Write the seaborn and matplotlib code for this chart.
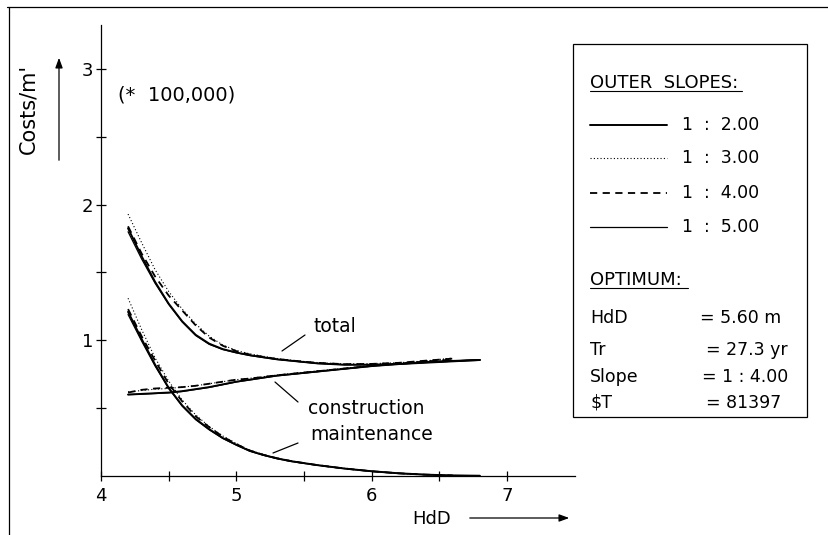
import numpy as np
import pandas as pd
import matplotlib
matplotlib.use("Agg")
import matplotlib.pyplot as plt
from matplotlib.lines import Line2D
from matplotlib.patches import Rectangle, FancyArrowPatch
from matplotlib.ticker import FuncFormatter
import seaborn as sns

# ---------------- data ----------------
hdd = [4.2, 4.3, 4.4, 4.5, 4.6, 4.7, 4.8, 4.9, 5.0, 5.1, 5.2, 5.3, 5.4, 5.5,
       5.6, 5.8, 6.0, 6.2, 6.4, 6.6, 6.8]

slopes = ["1  :  2.00", "1  :  3.00", "1  :  4.00", "1  :  5.00"]

# slope 1:2 (solid)
total_s2 = [1.825, 1.62, 1.43, 1.27, 1.14, 1.04, 0.975, 0.935, 0.91, 0.89, 0.875,
            0.86, 0.85, 0.84, 0.83, 0.82, 0.82, 0.825, 0.835, 0.845, 0.855]
constr_s2 = [0.60, 0.605, 0.61, 0.615, 0.625, 0.64, 0.655, 0.675, 0.695, 0.71, 0.725,
             0.74, 0.75, 0.76, 0.77, 0.79, 0.81, 0.825, 0.84, 0.848, 0.855]
maint_s2 = [1.21, 1.01, 0.82, 0.65, 0.52, 0.42, 0.345, 0.28, 0.23, 0.185, 0.155,
            0.13, 0.11, 0.095, 0.08, 0.055, 0.035, 0.02, 0.01, 0.004, 0.002]

# slope 1:3 (dotted)
total_s3 = [1.93, 1.72, 1.52, 1.36, 1.23, 1.12, 1.03, 0.965, 0.925, 0.9, 0.882,
            0.866, 0.854, 0.844, 0.836, 0.826, 0.828, 0.835, 0.848, 0.87]
constr_s3 = [0.62, 0.63, 0.64, 0.645, 0.655, 0.665, 0.68, 0.695, 0.71, 0.72, 0.732,
             0.744, 0.754, 0.764, 0.774, 0.794, 0.814, 0.83, 0.846, 0.862]
maint_s3 = [1.31, 1.08, 0.87, 0.70, 0.56, 0.45, 0.365, 0.295, 0.24, 0.19, 0.158,
            0.132, 0.112, 0.096, 0.081, 0.056, 0.036, 0.02, 0.01, 0.004]

# slope 1:4 (dashed)
total_s4 = [1.84, 1.64, 1.47, 1.33, 1.22, 1.11, 1.02, 0.96, 0.92, 0.895, 0.878,
            0.862, 0.852, 0.842, 0.834, 0.824, 0.826, 0.834, 0.85, 0.865]
constr_s4 = [0.615, 0.635, 0.645, 0.65, 0.655, 0.665, 0.68, 0.695, 0.71, 0.718, 0.73,
             0.742, 0.752, 0.762, 0.772, 0.792, 0.812, 0.828, 0.844, 0.858]
maint_s4 = [1.23, 1.03, 0.85, 0.68, 0.55, 0.44, 0.36, 0.29, 0.235, 0.188, 0.156,
            0.131, 0.111, 0.095, 0.08, 0.055, 0.035, 0.02, 0.01, 0.004]

# slope 1:5 (solid)
total_s5 = [1.80, 1.60, 1.42, 1.265, 1.135, 1.035, 0.97, 0.932, 0.908, 0.888, 0.873,
            0.859, 0.849, 0.839, 0.829, 0.82, 0.82, 0.826, 0.836, 0.846, 0.856]
constr_s5 = [0.60, 0.603, 0.608, 0.613, 0.623, 0.638, 0.653, 0.673, 0.693, 0.708, 0.723,
             0.738, 0.748, 0.758, 0.768, 0.789, 0.809, 0.825, 0.84, 0.848, 0.856]
maint_s5 = [1.19, 0.995, 0.81, 0.645, 0.515, 0.415, 0.34, 0.277, 0.228, 0.183, 0.153,
            0.128, 0.108, 0.093, 0.079, 0.054, 0.034, 0.019, 0.009, 0.004, 0.002]

x_ticks = [4, 4.5, 5, 5.5, 6, 6.5, 7]
y_ticks = [0.5, 1, 1.5, 2, 2.5, 3]

opt_keys = ["HdD", "Tr", "Slope", "$T"]
opt_vals = ["= 5.60 m", "= 27.3 yr", "= 1 : 4.00", "= 81397"]

series = {
    slopes[0]: (total_s2, constr_s2, maint_s2),
    slopes[1]: (total_s3, constr_s3, maint_s3),
    slopes[2]: (total_s4, constr_s4, maint_s4),
    slopes[3]: (total_s5, constr_s5, maint_s5),
}

rows = []
for sl, (tot, con, mai) in series.items():
    for name, vals in (("total", tot), ("construction", con), ("maintenance", mai)):
        for xv, yv in zip(hdd, vals):
            rows.append({"HdD": xv, "cost": yv, "component": name, "slope": sl})
df = pd.DataFrame(rows)

styles = {
    slopes[0]: dict(linestyle="-", lw=1.4),
    slopes[1]: dict(linestyle=(0, (1, 2)), lw=0.8),
    slopes[2]: dict(linestyle=(0, (4, 3)), lw=1.3),
    slopes[3]: dict(linestyle="-", lw=0.9),
}

# ---------------- figure ----------------
sns.set_style("white")
plt.rcParams["font.family"] = ["DejaVu Sans"]
plt.rcParams["text.color"] = "black"
plt.rcParams["axes.labelcolor"] = "black"
plt.rcParams["xtick.color"] = "black"
plt.rcParams["ytick.color"] = "black"

W, H = 829, 535
fig = plt.figure(figsize=(W / 100, H / 100), dpi=100)

def fx(px):
    return px / W

def fy(py):
    return 1 - py / H

x0, x1 = 101, 575
y0, y1 = 476, 25
ax = fig.add_axes([fx(x0), fy(y0), (x1 - x0) / W, (y0 - y1) / H])
ax.set_facecolor("none")

for sl in slopes:
    for comp in ("total", "construction", "maintenance"):
        d = df[(df.slope == sl) & (df.component == comp)]
        sns.lineplot(data=d, x="HdD", y="cost", ax=ax, color="black",
                     legend=False, estimator=None, sort=True, **styles[sl])

ax.set_xlim(4, 4 + (x1 - x0) / 135.3)
ax.set_ylim(0, (y0 - y1) / 135.7)
ax.set_xlabel("")
ax.set_ylabel("")
for s in ("top", "right"):
    ax.spines[s].set_visible(False)
for s in ("left", "bottom"):
    ax.spines[s].set_color("black")
    ax.spines[s].set_linewidth(0.9)

intfmt = FuncFormatter(lambda v, p: f"{int(round(v))}" if abs(v - round(v)) < 1e-6 else "")
ax.set_xticks(x_ticks)
ax.set_yticks(y_ticks)
ax.xaxis.set_major_formatter(intfmt)
ax.yaxis.set_major_formatter(intfmt)
ax.tick_params(axis="both", direction="inout", length=7.5, width=0.9,
               colors="black", labelsize=13, bottom=True, left=True)
ax.tick_params(axis="x", pad=4)
ax.tick_params(axis="y", pad=2)

# annotations with leader lines
def px2data(px, py):
    return 4 + (px - x0) / 135.3, (y0 - py) / 135.7

for label, (ax_, ay_), (bx, by), (tx, ty) in [
    ("total", (282, 351), (305, 335), (314, 327)),
    ("construction", (275, 382), (298, 402), (308, 408)),
    ("maintenance", (273, 453), (298, 443), (310, 435)),
]:
    p0 = px2data(ax_, ay_)
    p1 = px2data(bx, by)
    ax.plot([p0[0], p1[0]], [p0[1], p1[1]], color="black", lw=0.9)
    t = px2data(tx, ty)
    ax.text(t[0], t[1], label, fontsize=13.5, ha="left", va="center")

ax.text(*px2data(118, 95), "(*  100,000)", fontsize=14, ha="left", va="center")

# y label with arrow
fig.text(fx(28), fy(109), "Costs/m'", rotation=90, fontsize=15, ha="center", va="center")
fig.add_artist(FancyArrowPatch(
    (fx(59), fy(163)), (fx(59), fy(55)), transform=fig.transFigure,
    arrowstyle="-|>,head_length=6,head_width=2.2", color="black", lw=0.9))

# x label with arrow
fig.text(fx(412), fy(519), "HdD", fontsize=13, ha="left", va="center")
fig.add_artist(FancyArrowPatch(
    (fx(467), fy(518)), (fx(572), fy(518)), transform=fig.transFigure,
    arrowstyle="-|>,head_length=6,head_width=2.2", color="black", lw=0.9))

# figure frame (left and top)
fig.add_artist(Line2D([fx(9), fx(9)], [fy(7), fy(535)], color="black", lw=0.9))
fig.add_artist(Line2D([fx(7), fx(829)], [fy(7), fy(7)], color="black", lw=0.9))

# legend / info box
fig.add_artist(Rectangle((fx(573), fy(417)), (807 - 573) / W, (417 - 44) / H,
                         transform=fig.transFigure, fill=False, ec="black", lw=0.9))
fig.text(fx(590), fy(83), "OUTER  SLOPES:", fontsize=13, ha="left", va="center")
fig.add_artist(Line2D([fx(590), fx(742)], [fy(91), fy(91)], color="black", lw=0.8))
for i, sl in enumerate(slopes):
    yy = [125, 158, 193, 227][i]
    st = styles[sl]
    fig.add_artist(Line2D([fx(590), fx(667)], [fy(yy), fy(yy)], color="black",
                          linestyle=st["linestyle"], lw=st["lw"]))
    fig.text(fx(682), fy(yy), sl, fontsize=12.5, ha="left", va="center")

fig.text(fx(590), fy(280), "OPTIMUM:", fontsize=13, ha="left", va="center")
fig.add_artist(Line2D([fx(590), fx(688)], [fy(288), fy(288)], color="black", lw=0.8))

opt_eq_x = [700, 706, 702, 706]
opt_y = [318, 350, 377, 403]
for k, v, ex, yy in zip(opt_keys, opt_vals, opt_eq_x, opt_y):
    fig.text(fx(590), fy(yy), k.replace("$", r"\$"), fontsize=12.5, ha="left", va="center")
    fig.text(fx(ex), fy(yy), v, fontsize=12.5, ha="left", va="center")

fig.savefig("out.png", dpi=100)
